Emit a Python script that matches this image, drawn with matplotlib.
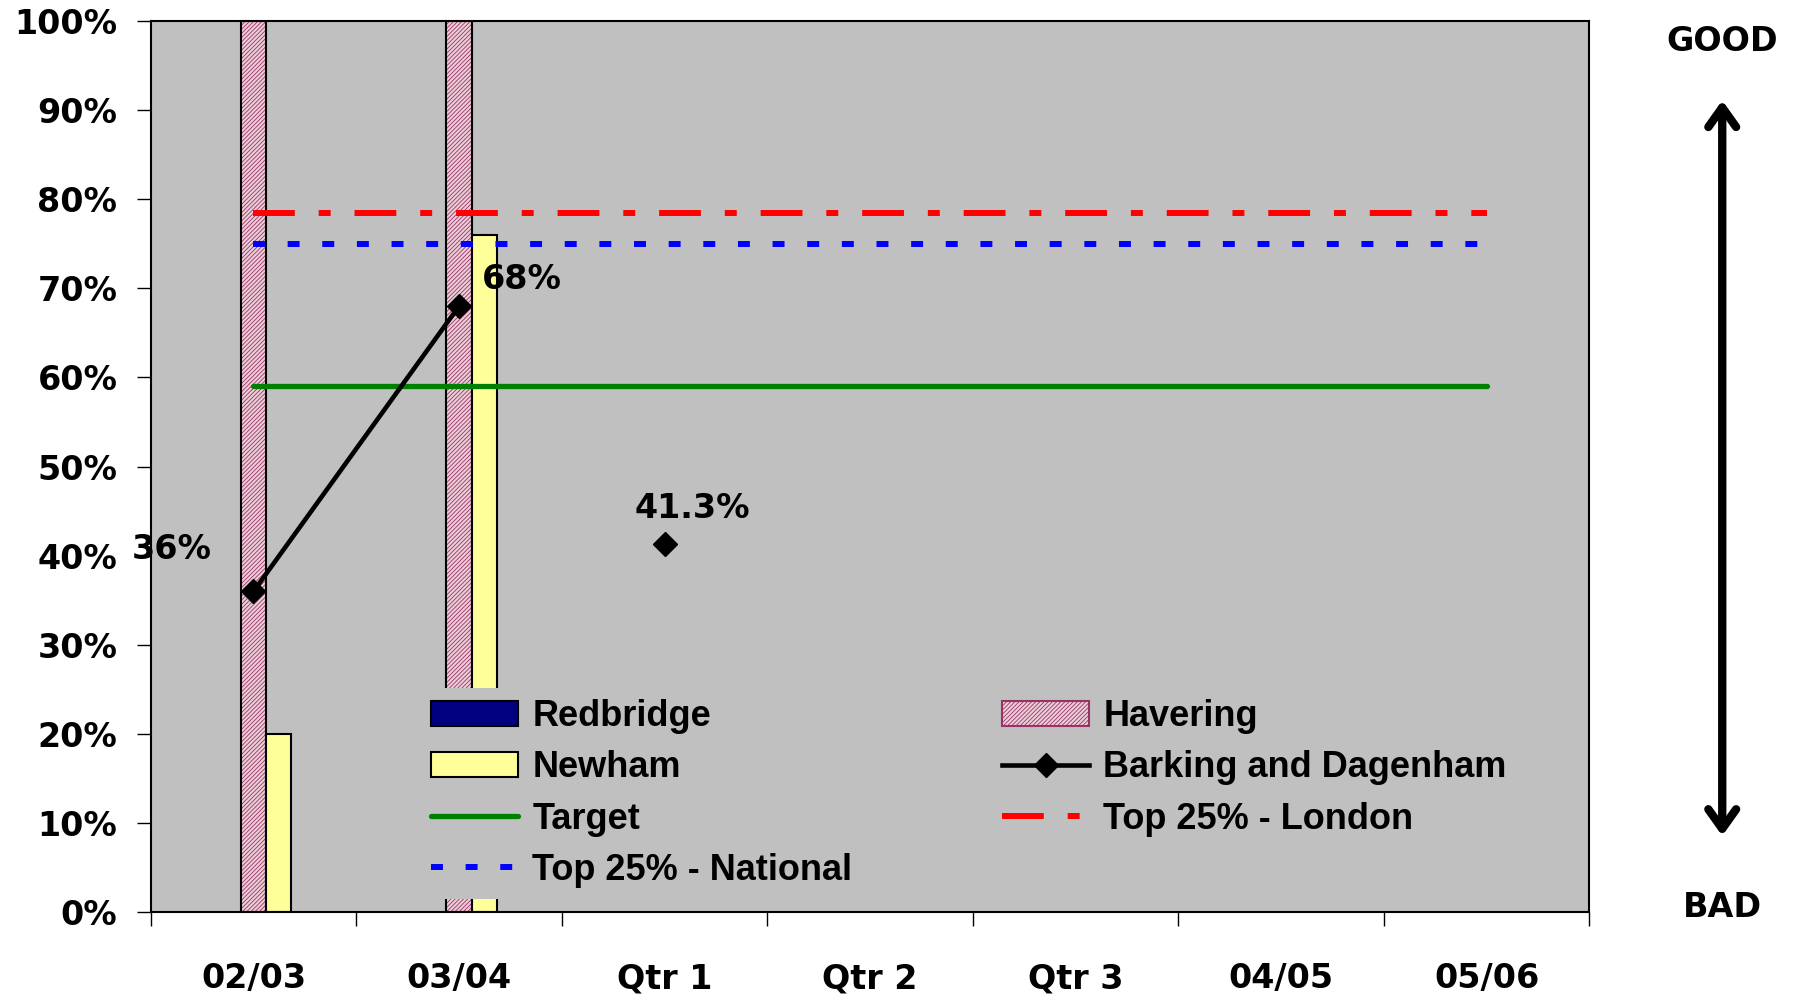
import numpy as np
import matplotlib
matplotlib.use("Agg")
import matplotlib.pyplot as plt
from matplotlib.lines import Line2D
from matplotlib.patches import Patch

categories = ["02/03", "03/04", "Qtr 1", "Qtr 2", "Qtr 3", "04/05", "05/06"]
redbridge = [np.nan, np.nan, np.nan, np.nan, np.nan, np.nan, np.nan]
havering = [100, 100, np.nan, np.nan, np.nan, np.nan, np.nan]
newham = [20, 76, np.nan, np.nan, np.nan, np.nan, np.nan]
barking = [36, 68, 41.3, np.nan, np.nan, np.nan, np.nan]
barking_labels = ["36%", "68%", "41.3%"]
target = 59
top_london = 78.5
top_national = 75

plt.rcParams['hatch.linewidth'] = 0.6
BIG = dict(family="DejaVu Sans", weight="bold", size=24)

fig = plt.figure(figsize=(17.94, 9.96), dpi=100)
ax = fig.add_axes([0.084, 0.084, 0.802, 0.895])
ax.set_facecolor("#C0C0C0")

x = np.arange(len(categories))
w = 0.122

ax.bar(x - w, redbridge, w, color="#000080", edgecolor="black", linewidth=1.5, zorder=2)
ax.bar(x, havering, w, color="#EBCFD8", edgecolor="#993366", hatch="////////", linewidth=0, zorder=2)
ax.bar(x, havering, w, fill=False, edgecolor="black", linewidth=1.5, zorder=2)
ax.bar(x + w, newham, w, color="#FFFF99", edgecolor="black", linewidth=1.5, zorder=2)

ax.plot([x[0], x[-1]], [target, target], color="#008000", lw=3.8, solid_capstyle="round", zorder=3)
ax.plot([x[0], x[-1]], [top_london, top_london], color="red", lw=4.3,
        linestyle=(0, (7, 4, 2, 4)), dash_capstyle="butt", zorder=3)
ax.plot([x[0], x[-1]], [top_national, top_national], color="blue", lw=4.3,
        linestyle=(0, (2, 3.8)), dash_capstyle="butt", zorder=3)

ax.plot(x[:2], barking[:2], color="black", lw=3.3, zorder=4)
ax.plot(x, barking, linestyle="none", marker="D", color="black", markersize=12, zorder=5)

offsets = [(-59, 30), (45, 19), (20, 26)]
for i, (lab, off) in enumerate(zip(barking_labels, offsets)):
    ax.annotate(lab, (x[i], barking[i]), xytext=off, textcoords="offset points",
                ha="center", va="center", zorder=6, **BIG)

ax.set_xlim(-0.5, len(categories) - 0.5)
ax.set_ylim(0, 100)
ax.set_yticks(np.arange(0, 101, 10))
ax.set_yticklabels([f"{v}%" for v in range(0, 101, 10)], **BIG)
ax.tick_params(axis="y", length=10, width=1, pad=14)
ax.set_xticks(np.arange(-0.5, len(categories)), minor=False)
ax.set_xticklabels([])
ax.set_xticks(x, minor=True)
ax.set_xticklabels(categories, minor=True, **BIG)
ax.tick_params(axis="x", which="major", length=10, width=1)
ax.tick_params(axis="x", which="minor", length=0, pad=36)
for s in ax.spines.values():
    s.set_linewidth(1.5)
    s.set_color("black")

handles = [
    Patch(facecolor="#000080", edgecolor="black", linewidth=1.5),
    Patch(facecolor="#FFFF99", edgecolor="black", linewidth=1.5),
    Line2D([], [], color="#008000", lw=3.8, solid_capstyle="round"),
    Line2D([], [], color="blue", lw=4.3, linestyle=(0, (2, 3.8))),
    Patch(facecolor="#EBCFD8", edgecolor="#993366", hatch="////////", linewidth=1.5),
    Line2D([], [], color="black", lw=3.3, marker="D", markersize=12),
    Line2D([], [], color="red", lw=4.3, linestyle=(0, (7, 4, 2, 4))),
]
labels = ["Redbridge", "Newham", "Target", "Top 25% - National",
          "Havering", "Barking and Dagenham", "Top 25% - London"]
leg = ax.legend(handles, labels, ncol=2, loc="lower left", bbox_to_anchor=(0.175, -0.005),
                prop=dict(family="Liberation Sans", weight="bold", size=26),
                facecolor="#C0C0C0", framealpha=1, frameon=True, edgecolor="none",
                handlelength=2.4, handletextpad=0.4, columnspacing=4.15,
                labelspacing=0.45, borderpad=0.3, fancybox=False)
leg.set_zorder(10)

fig.text(0.96, 0.958, "GOOD", ha="center", va="center", **BIG)
fig.text(0.96, 0.089, "BAD", ha="center", va="center", **BIG)
fig.add_artist(matplotlib.patches.FancyArrowPatch(
    (0.96, 0.158), (0.96, 0.902), transform=fig.transFigure,
    arrowstyle="<->,head_length=14,head_width=10", lw=6, color="black",
    capstyle="round", joinstyle="round"))

fig.savefig("out.png", dpi=100)
